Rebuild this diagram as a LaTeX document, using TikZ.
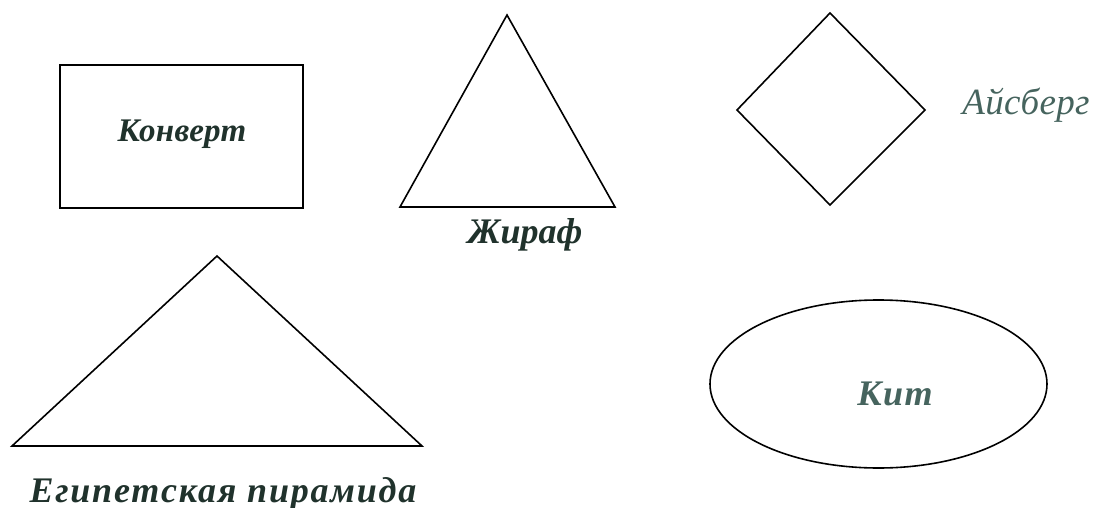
\documentclass[tikz,border=0pt]{standalone}
\usepackage{fontspec}
\setmainfont{Liberation Serif}
\usetikzlibrary{shapes.geometric}
\definecolor{labelslate}{RGB}{32,50,44}
\definecolor{labelteal}{RGB}{70,100,94}
% size, letter spacing
\newcommand{\labelfont}[2]{\fontsize{#1}{#1}\selectfont\addfontfeature{LetterSpace=#2}\itshape}

\begin{document}
\begin{tikzpicture}[
  x=1pt, y=-1pt,
  outline/.style={draw=black, line width=1.6pt, line join=miter},
  shapelabel/.style={anchor=base, inner sep=0pt, text=labelslate},
  lightlabel/.style={shapelabel, text=labelteal}
]
\useasboundingbox (0,0) rectangle (1106,508);

% shapes
\node[outline, rectangle, minimum width=243pt, minimum height=143pt] (envelope)
  at (181.5,136.5) {};
\draw[outline] (507,15) coordinate (giraffetop) -- (615,207) -- (400,207) -- cycle;
\draw[outline] (830,13) coordinate (icetop) -- (925,110) -- (830,205) -- (737,110) -- cycle;
\draw[outline] (217,256) coordinate (pyramidtop) -- (422,446) -- (12,446) -- cycle;
\node[outline, ellipse, minimum width=337pt, minimum height=168pt] (whale)
  at (878.5,384) {};

% labels
\node[shapelabel, font=\labelfont{33}{1}\bfseries] (envelopelbl) at (182,142) {Конверт};
\node[shapelabel, font=\labelfont{36}{0}\bfseries] (giraffelbl) at (525,243) {Жираф};
\node[lightlabel, font=\labelfont{37}{1}] (icelbl) at (1026,115) {Айсберг};
\node[lightlabel, font=\labelfont{36}{4}\bfseries] (whalelbl) at (895,405) {Кит};
\node[shapelabel, font=\labelfont{36}{5}\bfseries] (pyramidlbl) at (223,502)
  {Египетская пирамида};
\end{tikzpicture}
\end{document}
